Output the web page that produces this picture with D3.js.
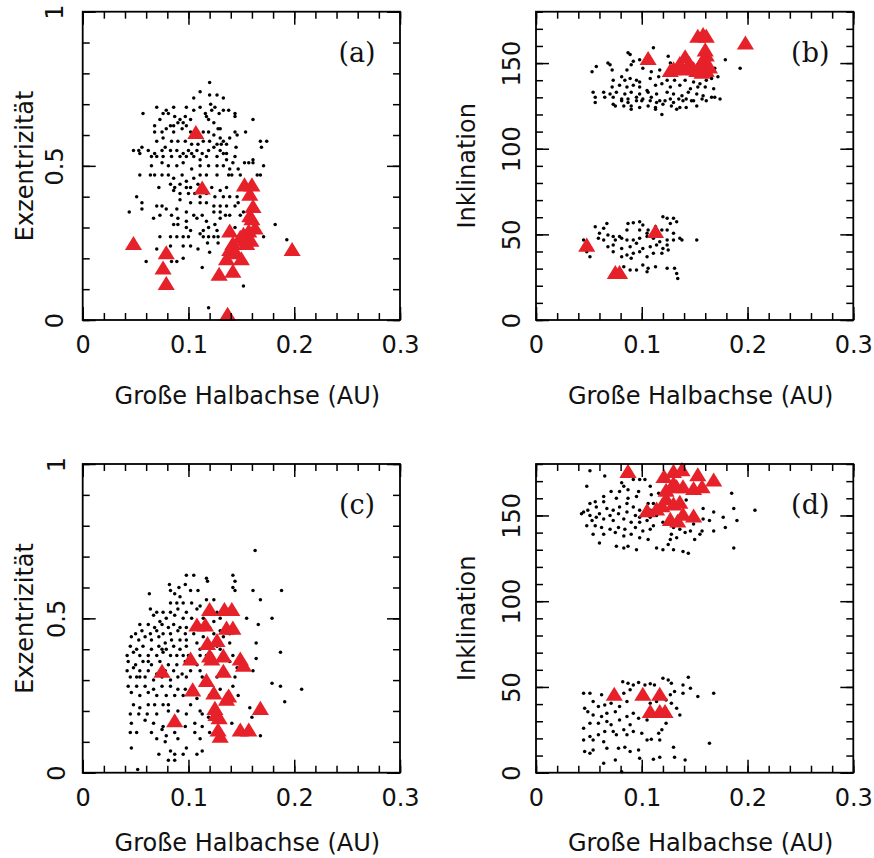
<!DOCTYPE html>
<html>
<head>
<meta charset="utf-8">
<script src="https://cdn.jsdelivr.net/npm/d3@7"></script>
<style>
html,body{margin:0;padding:0;background:#fff;}
svg{display:block;}
</style>
</head>
<body>
<script>
// ---------------- DATA ----------------
const xMajorTicks = [0, 0.1, 0.2, 0.3];
const eMajorTicks = [0, 0.5, 1];
const iMajorTicks = [0, 50, 100, 150];
const xLabel = "Große Halbachse (AU)";
const eLabel = "Exzentrizität";
const iLabel = "Inklination";
const panelLetters = ["(a)", "(b)", "(c)", "(d)"];

// panel (a): semi-major axis vs eccentricity
const panelA_dots = [
[0.120,0.77],[0.111,0.74],[0.120,0.73],[0.127,0.73],[0.133,0.72],[0.105,0.72],[0.121,0.70],[0.125,0.69],
[0.070,0.69],[0.079,0.68],[0.086,0.69],[0.098,0.69],[0.105,0.68],[0.111,0.69],[0.116,0.67],[0.122,0.68],
[0.129,0.67],[0.133,0.68],[0.138,0.68],[0.144,0.67],[0.057,0.67],[0.076,0.67],[0.081,0.67],[0.087,0.66],
[0.092,0.65],[0.097,0.66],[0.102,0.65],[0.095,0.64],[0.090,0.64],[0.073,0.65],[0.068,0.63],[0.083,0.63],
[0.086,0.63],[0.079,0.62],[0.075,0.61],[0.068,0.61],[0.086,0.61],[0.094,0.62],[0.098,0.63],[0.117,0.66],
[0.119,0.65],[0.124,0.64],[0.128,0.62],[0.130,0.62],[0.144,0.66],[0.161,0.65],[0.102,0.61],[0.114,0.61],
[0.119,0.61],[0.124,0.60],[0.130,0.59],[0.133,0.58],[0.139,0.59],[0.144,0.61],[0.146,0.60],[0.154,0.61],
[0.070,0.58],[0.076,0.59],[0.084,0.58],[0.090,0.58],[0.097,0.58],[0.103,0.57],[0.109,0.57],[0.114,0.58],
[0.120,0.58],[0.127,0.57],[0.131,0.57],[0.136,0.57],[0.145,0.56],[0.168,0.58],[0.174,0.58],[0.169,0.56],
[0.048,0.55],[0.053,0.55],[0.056,0.56],[0.062,0.55],[0.068,0.54],[0.075,0.55],[0.078,0.56],[0.083,0.55],
[0.089,0.55],[0.095,0.54],[0.100,0.55],[0.103,0.54],[0.108,0.55],[0.113,0.54],[0.119,0.55],[0.124,0.56],
[0.130,0.55],[0.133,0.54],[0.136,0.54],[0.054,0.54],[0.065,0.53],[0.070,0.53],[0.076,0.53],[0.084,0.53],
[0.092,0.53],[0.098,0.53],[0.105,0.53],[0.111,0.52],[0.117,0.53],[0.127,0.53],[0.136,0.52],[0.142,0.51],
[0.161,0.52],[0.153,0.51],[0.171,0.50],[0.144,0.53],[0.065,0.50],[0.075,0.51],[0.081,0.50],[0.089,0.50],
[0.095,0.51],[0.103,0.49],[0.111,0.50],[0.119,0.50],[0.127,0.50],[0.133,0.50],[0.139,0.49],[0.147,0.49],
[0.157,0.51],[0.161,0.51],[0.054,0.47],[0.064,0.47],[0.068,0.47],[0.075,0.47],[0.081,0.47],[0.086,0.46],
[0.094,0.47],[0.098,0.45],[0.105,0.46],[0.111,0.47],[0.117,0.47],[0.127,0.47],[0.138,0.47],[0.141,0.47],
[0.149,0.47],[0.165,0.47],[0.168,0.47],[0.072,0.43],[0.083,0.44],[0.087,0.43],[0.092,0.44],[0.098,0.43],
[0.102,0.43],[0.109,0.44],[0.114,0.43],[0.122,0.43],[0.130,0.42],[0.136,0.43],[0.086,0.42],[0.092,0.41],
[0.100,0.41],[0.106,0.41],[0.111,0.40],[0.117,0.41],[0.125,0.40],[0.133,0.40],[0.139,0.40],[0.146,0.40],
[0.051,0.40],[0.056,0.38],[0.070,0.37],[0.075,0.37],[0.092,0.39],[0.102,0.38],[0.111,0.38],[0.117,0.38],
[0.124,0.37],[0.130,0.37],[0.136,0.37],[0.144,0.37],[0.147,0.38],[0.044,0.35],[0.056,0.36],[0.067,0.33],
[0.079,0.36],[0.089,0.36],[0.098,0.35],[0.105,0.34],[0.113,0.34],[0.124,0.35],[0.130,0.35],[0.135,0.34],
[0.139,0.34],[0.149,0.34],[0.152,0.35],[0.073,0.34],[0.084,0.34],[0.090,0.33],[0.098,0.32],[0.108,0.33],
[0.117,0.32],[0.125,0.31],[0.130,0.33],[0.086,0.31],[0.090,0.31],[0.098,0.30],[0.102,0.29],[0.114,0.29],
[0.119,0.30],[0.127,0.29],[0.139,0.30],[0.144,0.30],[0.182,0.31],[0.073,0.27],[0.083,0.27],[0.089,0.27],
[0.095,0.27],[0.100,0.27],[0.111,0.28],[0.114,0.27],[0.119,0.27],[0.124,0.27],[0.128,0.27],[0.171,0.27],
[0.070,0.23],[0.083,0.24],[0.095,0.24],[0.102,0.24],[0.109,0.23],[0.118,0.25],[0.120,0.22],[0.128,0.25],
[0.193,0.26],[0.060,0.19],[0.084,0.19],[0.089,0.19],[0.095,0.20],[0.113,0.17],[0.152,0.11],[0.119,0.04]
];
const panelA_tri = [
[0.048,0.25],[0.079,0.22],[0.076,0.17],[0.079,0.12],[0.107,0.61],[0.113,0.43],[0.153,0.44],[0.160,0.44],
[0.158,0.41],[0.161,0.37],[0.158,0.34],[0.160,0.33],[0.163,0.30],[0.157,0.29],[0.152,0.28],[0.159,0.26],
[0.155,0.25],[0.139,0.29],[0.142,0.25],[0.139,0.23],[0.136,0.20],[0.145,0.22],[0.150,0.20],[0.142,0.16],
[0.129,0.15],[0.198,0.23],[0.137,0.02],[0.153,0.26],[0.149,0.27]
];

// panel (b): semi-major axis vs inclination
const panelB_dots = [
[0.087,156],[0.089,155],[0.111,159],[0.098,152],[0.092,151],[0.090,149],[0.086,146],[0.053,145],
[0.057,148],[0.068,150],[0.072,146],[0.070,149],[0.101,147],[0.109,145],[0.117,146],[0.125,154],
[0.130,148],[0.136,146],[0.127,150],[0.081,142],[0.073,140],[0.084,140],[0.089,141],[0.095,140],
[0.098,139],[0.108,141],[0.116,142],[0.124,140],[0.131,140],[0.141,140],[0.149,139],[0.155,138],
[0.161,140],[0.166,141],[0.172,142],[0.179,152],[0.193,147],[0.169,147],[0.072,136],[0.079,137],
[0.086,136],[0.092,137],[0.098,136],[0.105,134],[0.113,137],[0.119,138],[0.127,136],[0.136,137],
[0.146,135],[0.153,136],[0.160,136],[0.054,133],[0.064,133],[0.070,132],[0.076,133],[0.084,132],
[0.090,133],[0.098,132],[0.106,133],[0.114,132],[0.124,133],[0.130,132],[0.138,131],[0.144,133],
[0.152,132],[0.158,131],[0.168,135],[0.056,130],[0.065,130],[0.073,130],[0.081,129],[0.087,129],
[0.095,130],[0.101,129],[0.109,130],[0.117,128],[0.127,129],[0.135,129],[0.142,129],[0.149,128],
[0.157,129],[0.166,130],[0.174,129],[0.056,127],[0.073,126],[0.081,128],[0.087,127],[0.095,128],
[0.100,128],[0.108,128],[0.114,127],[0.122,128],[0.130,127],[0.139,128],[0.147,128],[0.161,128],
[0.075,125],[0.083,125],[0.090,125],[0.098,124],[0.106,125],[0.113,124],[0.120,126],[0.128,125],
[0.136,124],[0.142,124],[0.152,125],[0.169,130],[0.119,120],[0.113,123],[0.090,123],[0.133,123],
[0.056,54.5],[0.064,53.5],[0.067,56.4],[0.060,50.6],[0.068,49.6],[0.073,48.7],[0.079,48.7],[0.086,52.5],
[0.087,56.4],[0.092,56.8],[0.098,57.4],[0.101,55.5],[0.106,52.5],[0.113,54.5],[0.120,60.3],[0.124,59.4],
[0.130,59.4],[0.133,57.4],[0.127,56.4],[0.119,52.5],[0.124,52.5],[0.136,47.7],[0.138,46.7],[0.152,46.7],
[0.130,46.7],[0.124,46.7],[0.117,45.7],[0.111,47.7],[0.105,48.7],[0.098,47.7],[0.092,46.7],[0.086,46.7],
[0.081,47.7],[0.075,46.7],[0.068,42.8],[0.073,39.9],[0.081,41.8],[0.089,42.8],[0.095,44.8],[0.101,41.8],
[0.108,42.8],[0.114,43.8],[0.120,41.8],[0.125,40.9],[0.098,39.9],[0.092,38.9],[0.086,38.0],[0.081,37.0],
[0.048,39.9],[0.051,37.0],[0.090,36.0],[0.105,37.0],[0.119,38.9],[0.064,46.7],[0.059,47.7],[0.073,43.8],
[0.111,38.9],[0.124,43.8],[0.098,52.5],[0.105,50.6],[0.130,50.6],[0.089,29.2],[0.095,29.2],[0.101,32.1],
[0.106,30.2],[0.105,28.2],[0.113,31.1],[0.124,30.2],[0.131,30.2],[0.133,27.2],[0.134,24.3],[0.083,31.1],
[0.045,46.7]
];
const panelB_tri = [
[0.048,44],[0.075,28],[0.079,28],[0.106,153],[0.113,52],[0.198,162],[0.153,166],[0.158,167],
[0.161,166],[0.141,154],[0.136,150],[0.130,147],[0.127,146],[0.145,150],[0.149,147],[0.155,149],
[0.158,152],[0.161,155],[0.160,158],[0.161,146],[0.164,148],[0.157,145],[0.152,146],[0.137,147],
[0.143,147]
];

// panel (c): semi-major axis vs eccentricity
const panelC_dots = [
[0.163,0.72],[0.098,0.64],[0.105,0.64],[0.117,0.63],[0.118,0.62],[0.082,0.61],[0.097,0.61],[0.091,0.60],
[0.083,0.59],[0.102,0.59],[0.109,0.59],[0.087,0.58],[0.092,0.57],[0.063,0.58],[0.142,0.64],[0.144,0.62],
[0.142,0.60],[0.144,0.59],[0.161,0.59],[0.188,0.59],[0.168,0.56],[0.089,0.55],[0.083,0.55],[0.095,0.55],
[0.103,0.55],[0.111,0.54],[0.117,0.56],[0.124,0.56],[0.064,0.53],[0.070,0.52],[0.076,0.52],[0.083,0.52],
[0.090,0.53],[0.098,0.52],[0.108,0.53],[0.116,0.52],[0.127,0.52],[0.133,0.53],[0.139,0.53],[0.067,0.51],
[0.073,0.49],[0.079,0.50],[0.087,0.51],[0.095,0.50],[0.103,0.50],[0.114,0.50],[0.124,0.49],[0.130,0.50],
[0.155,0.50],[0.179,0.50],[0.054,0.48],[0.062,0.48],[0.068,0.47],[0.075,0.48],[0.081,0.47],[0.086,0.48],
[0.092,0.47],[0.098,0.47],[0.111,0.47],[0.120,0.47],[0.130,0.46],[0.136,0.47],[0.142,0.46],[0.166,0.48],
[0.050,0.45],[0.056,0.46],[0.064,0.45],[0.070,0.46],[0.076,0.45],[0.083,0.45],[0.090,0.46],[0.097,0.45],
[0.105,0.45],[0.114,0.44],[0.124,0.45],[0.133,0.44],[0.139,0.45],[0.046,0.44],[0.053,0.43],[0.059,0.44],
[0.065,0.43],[0.072,0.44],[0.078,0.42],[0.084,0.43],[0.092,0.43],[0.098,0.43],[0.108,0.42],[0.117,0.41],
[0.127,0.41],[0.139,0.42],[0.164,0.42],[0.045,0.41],[0.051,0.40],[0.057,0.41],[0.065,0.40],[0.072,0.41],
[0.079,0.40],[0.086,0.41],[0.092,0.40],[0.098,0.41],[0.111,0.40],[0.130,0.40],[0.042,0.38],[0.048,0.39],
[0.054,0.38],[0.062,0.38],[0.070,0.38],[0.076,0.39],[0.083,0.38],[0.089,0.38],[0.095,0.38],[0.111,0.38],
[0.117,0.38],[0.142,0.38],[0.164,0.37],[0.187,0.39],[0.043,0.36],[0.050,0.35],[0.057,0.36],[0.065,0.35],
[0.073,0.36],[0.081,0.35],[0.089,0.35],[0.097,0.36],[0.108,0.35],[0.139,0.36],[0.149,0.35],[0.042,0.33],
[0.048,0.34],[0.054,0.33],[0.062,0.33],[0.070,0.32],[0.078,0.33],[0.086,0.33],[0.094,0.32],[0.102,0.33],
[0.111,0.33],[0.146,0.34],[0.161,0.33],[0.045,0.31],[0.051,0.31],[0.059,0.31],[0.067,0.30],[0.075,0.31],
[0.083,0.30],[0.090,0.31],[0.098,0.31],[0.113,0.31],[0.127,0.31],[0.144,0.31],[0.043,0.28],[0.051,0.28],
[0.059,0.28],[0.067,0.27],[0.075,0.28],[0.083,0.28],[0.090,0.27],[0.097,0.27],[0.130,0.27],[0.142,0.28],
[0.187,0.28],[0.207,0.27],[0.179,0.29],[0.046,0.26],[0.054,0.25],[0.062,0.26],[0.070,0.25],[0.079,0.25],
[0.087,0.25],[0.095,0.25],[0.108,0.24],[0.120,0.25],[0.147,0.25],[0.048,0.22],[0.054,0.21],[0.062,0.22],
[0.068,0.22],[0.076,0.22],[0.081,0.22],[0.090,0.20],[0.102,0.22],[0.111,0.20],[0.158,0.21],[0.191,0.23],
[0.045,0.19],[0.053,0.19],[0.061,0.19],[0.070,0.19],[0.081,0.20],[0.098,0.19],[0.113,0.19],[0.119,0.18],
[0.160,0.18],[0.046,0.16],[0.059,0.17],[0.067,0.16],[0.076,0.15],[0.086,0.16],[0.097,0.15],[0.106,0.16],
[0.113,0.15],[0.141,0.16],[0.045,0.13],[0.051,0.13],[0.065,0.13],[0.075,0.14],[0.087,0.13],[0.106,0.13],
[0.120,0.13],[0.168,0.12],[0.070,0.11],[0.078,0.10],[0.090,0.11],[0.111,0.11],[0.046,0.08],[0.083,0.07],
[0.098,0.08],[0.113,0.07],[0.072,0.06],[0.087,0.06],[0.095,0.06],[0.108,0.06],[0.081,0.04],[0.087,0.04],
[0.079,0.12],[0.054,0.31],[0.062,0.36],[0.075,0.40],[0.100,0.38],[0.052,0.01]
];
const panelC_tri = [
[0.120,0.53],[0.134,0.53],[0.141,0.53],[0.108,0.48],[0.116,0.48],[0.136,0.47],[0.142,0.47],[0.118,0.42],
[0.127,0.43],[0.102,0.37],[0.075,0.33],[0.120,0.38],[0.122,0.37],[0.133,0.38],[0.149,0.37],[0.152,0.35],
[0.133,0.33],[0.117,0.30],[0.104,0.27],[0.124,0.26],[0.138,0.25],[0.136,0.24],[0.168,0.21],[0.125,0.21],
[0.126,0.19],[0.129,0.18],[0.087,0.17],[0.128,0.14],[0.130,0.12],[0.149,0.14],[0.157,0.14]
];

// panel (d): semi-major axis vs inclination
const panelD_dots = [
[0.051,176],[0.065,173],[0.081,169],[0.083,167],[0.048,167],[0.087,165],[0.092,171],[0.098,171],
[0.103,171],[0.108,167],[0.079,164],[0.071,164],[0.064,161],[0.076,160],[0.087,160],[0.095,161],
[0.109,162],[0.097,164],[0.106,157],[0.116,163],[0.051,157],[0.056,158],[0.045,152],[0.049,153],
[0.057,155],[0.064,158],[0.067,154],[0.073,153],[0.079,155],[0.086,157],[0.092,155],[0.098,153],
[0.105,155],[0.111,157],[0.117,153],[0.051,150],[0.043,151],[0.060,151],[0.070,150],[0.078,151],
[0.086,152],[0.094,150],[0.098,149],[0.108,149],[0.057,149],[0.053,147],[0.064,148],[0.073,147],
[0.083,148],[0.090,146],[0.098,146],[0.105,147],[0.111,144],[0.048,144],[0.056,144],[0.062,143],
[0.070,142],[0.078,143],[0.084,142],[0.094,143],[0.101,141],[0.108,142],[0.054,139],[0.064,139],
[0.075,140],[0.083,138],[0.090,139],[0.098,137],[0.106,136],[0.060,134],[0.076,132],[0.083,131],
[0.087,132],[0.095,130],[0.114,131],[0.120,130],[0.125,133],[0.130,130],[0.139,129],[0.144,128],
[0.127,136],[0.133,137],[0.141,140],[0.146,141],[0.136,142],[0.150,136],[0.130,143],[0.158,148],
[0.164,147],[0.157,141],[0.168,141],[0.179,143],[0.187,131],[0.185,163],[0.187,154],[0.207,153],
[0.190,147],[0.177,149],[0.168,152],[0.158,154],[0.142,159],[0.108,153],[0.114,150],[0.120,146],
[0.136,146],[0.149,145],[0.128,139],[0.155,139],
[0.082,53.1],[0.087,52.2],[0.092,51.2],[0.097,52.6],[0.103,51.2],[0.108,51.8],[0.112,51.2],[0.120,55.1],
[0.125,54.1],[0.128,52.2],[0.139,51.2],[0.144,55.7],[0.146,49.3],[0.139,46.3],[0.153,44.4],[0.168,46.3],
[0.131,47.3],[0.127,45.4],[0.123,42.4],[0.128,40.5],[0.114,41.5],[0.108,40.5],[0.100,43.4],[0.089,48.3],
[0.083,46.3],[0.086,41.5],[0.045,46.3],[0.051,46.3],[0.062,45.4],[0.054,41.5],[0.046,37.6],[0.049,35.6],
[0.059,38.6],[0.065,39.5],[0.071,40.5],[0.079,38.6],[0.075,35.6],[0.067,34.7],[0.062,32.7],[0.054,33.7],
[0.051,28.8],[0.045,25.9],[0.059,28.8],[0.067,29.8],[0.071,27.9],[0.079,30.8],[0.086,32.7],[0.092,34.7],
[0.097,31.7],[0.105,30.8],[0.089,27.9],[0.083,25.0],[0.073,24.0],[0.065,24.0],[0.059,22.1],[0.051,21.1],
[0.045,19.1],[0.054,19.1],[0.064,18.1],[0.076,22.1],[0.086,22.1],[0.092,24.0],[0.100,23.0],[0.105,19.1],
[0.109,19.5],[0.116,23.0],[0.117,19.1],[0.119,25.0],[0.123,28.8],[0.133,37.6],[0.136,33.7],[0.114,34.7],
[0.122,35.6],[0.046,12.3],[0.051,11.3],[0.054,13.3],[0.067,14.2],[0.078,14.2],[0.084,14.8],[0.089,12.3],
[0.097,13.3],[0.130,14.8],[0.098,8.4],[0.111,7.8],[0.117,9.0],[0.131,9.0],[0.141,7.4],[0.164,17.2],
[0.064,5.5],[0.081,0.6],[0.075,7.4]
];
const panelD_tri = [
[0.087,176],[0.130,176],[0.138,177],[0.121,173],[0.153,174],[0.168,171],[0.130,169],[0.139,167],
[0.149,166],[0.157,167],[0.123,165],[0.133,167],[0.123,160],[0.119,156],[0.130,157],[0.136,158],
[0.105,153],[0.114,154],[0.139,151],[0.149,150],[0.127,148],[0.134,147],
[0.074,46],[0.101,46],[0.117,46],[0.108,36],[0.117,36],[0.122,36]
];

// ---------------- LAYOUT ----------------
const W = 874, H = 858;
const panels = [
  {dots: panelA_dots, tri: panelA_tri, yMax: 1,   yMajor: eMajorTicks, yStep: 0.1, yTitle: eLabel, letter: panelLetters[0],
   left: 82.7, right: 400,   top: 11.7, bottom: 320,   yLabOff: -19.5, yTitleX: 33, xTitleOff: 84},
  {dots: panelB_dots, tri: panelB_tri, yMax: 180, yMajor: iMajorTicks, yStep: 10,  yTitle: iLabel, letter: panelLetters[1],
   left: 536,  right: 853.3, top: 11.7, bottom: 320,   yLabOff: -16,   yTitleX: 475, xTitleOff: 84},
  {dots: panelC_dots, tri: panelC_tri, yMax: 1,   yMajor: eMajorTicks, yStep: 0.1, yTitle: eLabel, letter: panelLetters[2],
   left: 82.7, right: 400,   top: 464,  bottom: 772.7, yLabOff: -18,   yTitleX: 33, xTitleOff: 78},
  {dots: panelD_dots, tri: panelD_tri, yMax: 180, yMajor: iMajorTicks, yStep: 10,  yTitle: iLabel, letter: panelLetters[3],
   left: 536,  right: 853.3, top: 464,  bottom: 772.7, yLabOff: -16,   yTitleX: 475, xTitleOff: 78}
];

const FONT = "'DejaVu Sans', 'Liberation Sans', sans-serif";
const RED = "#e62129";
const MINOR = 7, MAJOR = 13;

const svg = d3.select("body").append("svg").attr("width", W).attr("height", H);

// triangle symbol centred on its bounding box
const triSym = {
  draw(ctx, size) {
    const w = Math.sqrt(size * 2.6), h = w * 0.82;
    ctx.moveTo(0, -h / 2);
    ctx.lineTo(w / 2, h / 2);
    ctx.lineTo(-w / 2, h / 2);
    ctx.closePath();
  }
};
const triPath = d3.symbol().type(triSym).size(113)();

const xMinorTicks = d3.range(0, 0.3001, 0.02);

panels.forEach(p => {
  const x = d3.scaleLinear().domain([0, 0.3]).range([p.left, p.right]);
  const y = d3.scaleLinear().domain([0, p.yMax]).range([p.bottom, p.top]);
  const yMinorTicks = d3.range(0, p.yMax + p.yStep / 2, p.yStep);
  const g = svg.append("g");

  // dots
  g.append("g").selectAll("circle").data(p.dots).join("circle")
    .attr("cx", d => x(d[0])).attr("cy", d => y(d[1])).attr("r", 1.75).attr("fill", "#000");

  // triangles
  g.append("g").selectAll("path").data(p.tri).join("path")
    .attr("d", triPath)
    .attr("transform", d => `translate(${x(d[0])},${y(d[1])})`)
    .attr("fill", RED);

  // inward ticks on all four sides
  const tickAxes = [
    [d3.axisBottom(x), `translate(0,${p.bottom})`, xMinorTicks, xMajorTicks],
    [d3.axisTop(x),    `translate(0,${p.top})`,    xMinorTicks, xMajorTicks],
    [d3.axisLeft(y),   `translate(${p.left},0)`,   yMinorTicks, p.yMajor],
    [d3.axisRight(y),  `translate(${p.right},0)`,  yMinorTicks, p.yMajor]
  ];
  tickAxes.forEach(([ax, tr, minor, major]) => {
    [[minor, MINOR], [major, MAJOR]].forEach(([vals, len]) => {
      const a = g.append("g").attr("transform", tr)
        .call(ax.tickValues(vals).tickSize(-len).tickFormat(""));
      a.select(".domain").remove();
      a.selectAll("line").attr("stroke", "#000").attr("stroke-width", 1.5);
    });
  });

  // frame
  g.append("rect").attr("x", p.left).attr("y", p.top)
    .attr("width", p.right - p.left).attr("height", p.bottom - p.top)
    .attr("fill", "none").attr("stroke", "#000").attr("stroke-width", 1.8);

  // x tick labels
  const xl = g.append("g").attr("transform", `translate(0,${p.bottom})`)
    .call(d3.axisBottom(x).tickValues(xMajorTicks).tickSize(0).tickPadding(16)
      .tickFormat(d => d === 0 ? "0" : d3.format(".1f")(d)));
  xl.select(".domain").remove();
  xl.selectAll("text").attr("font-family", FONT).attr("font-size", 24).attr("fill", "#111");

  // y tick labels (rotated)
  const yl = g.append("g").attr("transform", `translate(${p.left},0)`)
    .call(d3.axisLeft(y).tickValues(p.yMajor).tickSize(0)
      .tickFormat(d => p.yMax === 1 ? (d === 0 ? "0" : d === 1 ? "1" : d3.format(".1f")(d)) : String(d)));
  yl.select(".domain").remove();
  yl.selectAll("text")
    .attr("x", null).attr("dy", null)
    .attr("transform", `translate(${p.yLabOff},0) rotate(-90)`)
    .attr("text-anchor", "middle")
    .attr("font-family", FONT).attr("font-size", 24).attr("fill", "#111");

  // x title
  g.append("text").attr("x", (p.left + p.right) / 2 + 6).attr("y", p.bottom + p.xTitleOff)
    .attr("text-anchor", "middle").attr("font-family", FONT).attr("font-size", 24).attr("fill", "#111")
    .text(xLabel);

  // y title
  g.append("text")
    .attr("transform", `translate(${p.yTitleX},${(p.top + p.bottom) / 2}) rotate(-90)`)
    .attr("text-anchor", "middle").attr("font-family", FONT).attr("font-size", 24).attr("fill", "#111")
    .text(p.yTitle);

  // panel letter
  g.append("text").attr("x", p.right - 43).attr("y", p.top + 50)
    .attr("text-anchor", "middle").attr("font-family", "'DejaVu Serif', 'Liberation Serif', serif")
    .attr("font-size", 27).attr("fill", "#111")
    .text(p.letter);
});
</script>
</body>
</html>
